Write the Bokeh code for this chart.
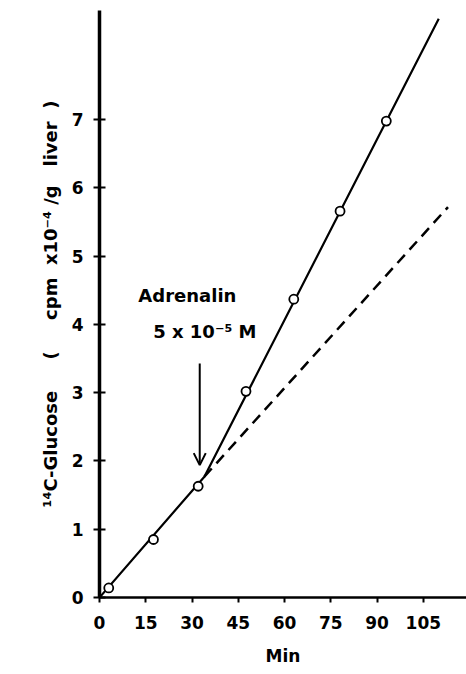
from bokeh.plotting import figure
from bokeh.models import Range1d, FixedTicker, Label, Arrow, OpenHead
from bokeh.embed import file_html
from bokeh.resources import INLINE

# Data
t_points = [3, 17.5, 32, 47.5, 63, 78, 93]
glucose = [0.14, 0.85, 1.63, 3.02, 4.37, 5.66, 6.98]

fit_t = [0, 34, 110]
fit_y = [0, 1.77, 8.48]

control_t = [34, 113]
control_y = [1.77, 5.72]

x_ticks = [0, 15, 30, 45, 60, 75, 90, 105]
y_ticks = [0, 1, 2, 3, 4, 5, 6, 7]

FONT = "DejaVu Sans"
NB = "\u00a0"

p = figure(width=466, height=674, x_range=Range1d(0, 119), y_range=Range1d(0, 8.6),
           output_backend="svg", toolbar_location=None,
           min_border_left=99, min_border_right=0, min_border_top=10, min_border_bottom=77)
p.outline_line_color = None
p.xgrid.visible = False
p.ygrid.visible = False
p.background_fill_color = "white"
p.border_fill_color = "white"

p.xaxis.ticker = FixedTicker(ticks=x_ticks)
p.yaxis.ticker = FixedTicker(ticks=y_ticks)
for ax in (p.xaxis[0], p.yaxis[0]):
    ax.minor_tick_line_color = None
    ax.major_label_text_font = FONT
    ax.major_label_text_font_style = "bold"
    ax.major_label_text_font_size = "17px"
    ax.major_label_text_color = "black"
    ax.axis_label_text_font = FONT
    ax.axis_label_text_font_style = "bold"
    ax.axis_label_text_font_size = "17px"
    ax.axis_label_text_color = "black"
    ax.axis_line_color = "black"
    ax.major_tick_line_color = "black"
    ax.major_tick_line_width = 2

p.xaxis.axis_line_width = 2.5
p.yaxis.axis_line_width = 3.5
p.xaxis.major_tick_in = 0
p.xaxis.major_tick_out = 5
p.yaxis.major_tick_in = 6
p.yaxis.major_tick_out = 6
p.xaxis.major_label_standoff = 13
p.yaxis.major_label_standoff = 10
p.xaxis.axis_label = "Min"
p.yaxis.axis_label = ("¹⁴C-Glucose" + NB * 5 + "(" + NB * 5 + "cpm" + NB * 2 +
                      "x10⁻⁴" + NB + "/g" + NB * 3 + "liver" + NB * 2 + ")")
p.yaxis.axis_label_text_font_size = "18px"
p.xaxis.axis_label_standoff = 14
p.yaxis.axis_label_standoff = 8

p.line(fit_t, fit_y, line_color="black", line_width=2.2)
p.line(control_t, control_y, line_color="black", line_width=2.5, line_dash="11 7")
p.scatter(t_points, glucose, marker="circle", size=9, fill_color="white",
          line_color="black", line_width=1.8)

p.add_layout(Arrow(end=OpenHead(size=12, line_width=2, line_color="black"),
                   x_start=32.5, y_start=3.43, x_end=32.5, y_end=1.94,
                   line_width=2, line_color="black"))
p.add_layout(Label(x=12.6, y=4.43, text="Adrenalin", text_font=FONT,
                   text_font_style="bold", text_font_size="18px", text_color="black",
                   text_baseline="alphabetic"))
p.add_layout(Label(x=17.4, y=3.89, text="5 x 10⁻⁵ M", text_font=FONT,
                   text_font_style="bold", text_font_size="18px", text_color="black",
                   text_baseline="alphabetic"))

open("out.html", "w").write(file_html(p, INLINE))
